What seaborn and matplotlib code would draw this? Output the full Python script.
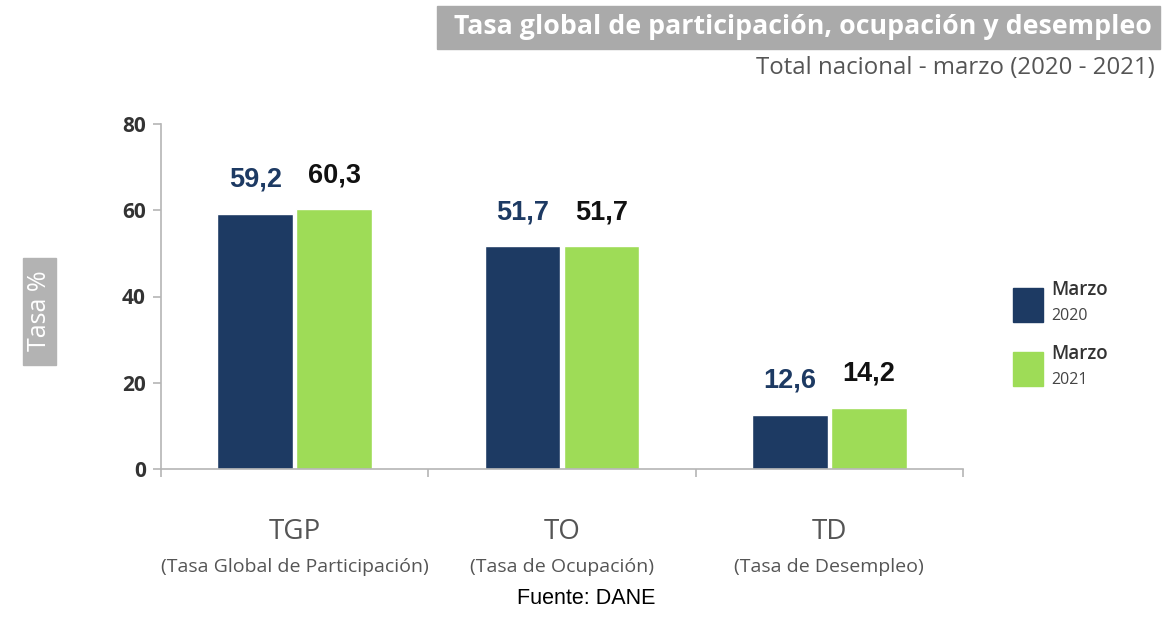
import pandas as pd
import numpy as np
import seaborn as sns
import matplotlib.pyplot as plt
from matplotlib.ticker import FixedLocator

categorias = ["TGP", "TO", "TD"]
descripciones = ["(Tasa Global de Participación)", "(Tasa de Ocupación)", "(Tasa de Desempleo)"]
marzo_2020 = [59.2, 51.7, 12.6]
marzo_2021 = [60.3, 51.7, 14.2]
periodos = ["Marzo\n2020", "Marzo\n2021"]
colores = ["#1d3a63", "#9edc57"]

df = pd.DataFrame({
    "categoria": categorias * 2,
    "valor": marzo_2020 + marzo_2021,
    "periodo": [periodos[0]] * 3 + [periodos[1]] * 3,
})

sns.set_theme(style="white")
plt.rcParams['font.family'] = ['Open Sans', 'DejaVu Sans']

W, H = 1165, 618
fig = plt.figure(figsize=(W / 100, H / 100), dpi=100)
ax = fig.add_axes([161 / W, 1 - 469 / H, (963 - 161) / W, (469 - 124) / H])

sns.barplot(data=df, x="categoria", y="valor", hue="periodo", palette=colores,
            width=0.59, gap=0.04, saturation=1, ax=ax, legend=False)

ax.set_xlim(-0.5, 2.5)
ax.set_ylim(0, 80)
ax.set_yticks([0, 20, 40, 60, 80])
ax.set_yticklabels(["0", "20", "40", "60", "80"], fontweight="bold", color="#333333", fontsize=15)
ax.set_xticks([])
ax.xaxis.set_minor_locator(FixedLocator([-0.5, 0.5, 1.5, 2.5]))
ax.tick_params(axis="x", which="minor", direction="out", length=6, color="#b5b5b5", width=1.2, bottom=True)
ax.tick_params(axis="y", direction="out", length=6, color="#b5b5b5", width=1.2, left=True, pad=5)
for s in ["top", "right"]:
    ax.spines[s].set_visible(False)
for s in ["left", "bottom"]:
    ax.spines[s].set_color("#b5b5b5")
    ax.spines[s].set_linewidth(1.2)
ax.set_xlabel("")
ax.set_ylabel("")

# etiquetas de valor
for cont, col in zip(ax.containers, ["#1d3a63", "#111111"]):
    ax.bar_label(cont, labels=[f"{v:.1f}".replace(".", ",") for v in cont.datavalues],
                 padding=15, fontsize=19.5, fontweight="bold", color=col,
                 family=["Liberation Sans", "DejaVu Sans"])

# etiquetas de categoria
for i, (c, d) in enumerate(zip(categorias, descripciones)):
    ax.text(i, -(532 - 469) / 345, c, transform=ax.get_xaxis_transform(), ha="center", va="center",
            fontsize=20, color="#555555")
    ax.text(i, -(567 - 469) / 345, d, transform=ax.get_xaxis_transform(), ha="center", va="center",
            fontsize=14, color="#555555")

# titulo
fig.patches.append(plt.Rectangle((437 / W, 1 - 49 / H), (1160 - 437) / W, 43 / H,
                                 transform=fig.transFigure, color="#aaaaaa", zorder=0))
fig.text(1152 / W, 1 - 27 / H, "Tasa global de participación, ocupación y desempleo",
         ha="right", va="center", fontsize=19.3, fontweight="bold", color="white")
fig.text(1155 / W, 1 - 68 / H, "Total nacional - marzo (2020 - 2021)",
         ha="right", va="center", fontsize=17.3, color="#555555")

# eje y
fig.patches.append(plt.Rectangle((23 / W, 1 - 365 / H), 33 / W, 107 / H,
                                 transform=fig.transFigure, color="#b3b3b3", zorder=0))
fig.text(40 / W, 1 - 311 / H, "Tasa %", rotation=90, ha="center", va="center",
         fontsize=18, color="white")

# leyenda
for k, (p, c) in enumerate(zip(periodos, colores)):
    y0 = 288 + k * 64
    fig.patches.append(plt.Rectangle((1013 / W, 1 - (y0 + 34) / H), 30 / W, 34 / H,
                                     transform=fig.transFigure, color=c))
    mes, anio = p.split("\n")
    fig.text(1051 / W, 1 - (y0 + 2) / H, mes, ha="left", va="center",
             fontsize=13.5, fontweight="semibold", color="#333333")
    fig.text(1051 / W, 1 - (y0 + 28) / H, anio, ha="left", va="center",
             fontsize=11.5, color="#444444")

fig.text(586 / W, 1 - 599 / H, "Fuente: DANE", ha="center", va="center",
         fontsize=15.5, color="black", family=["Liberation Sans", "DejaVu Sans"])

plt.savefig("out.png", dpi=100)
